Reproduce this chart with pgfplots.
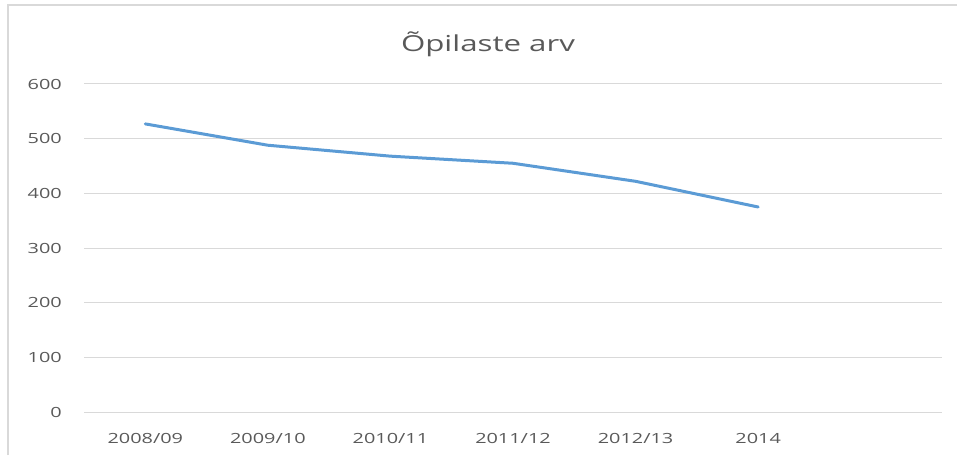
\documentclass[border=0pt]{standalone}
\usepackage{fontspec}
\setmainfont{Open Sans}[FakeStretch=1.42]
\usepackage{pgfplots}
\pgfplotsset{compat=1.18}
\definecolor{xlblue}{HTML}{5B9BD5}
\definecolor{xlgrid}{HTML}{D9D9D9}
\definecolor{xltext}{HTML}{595959}
\begin{document}
\begin{tikzpicture}
\begin{axis}[
  at={(0pt,0pt)}, anchor=south west,
  scale only axis, width=858pt, height=328pt,
  xmin=-0.5, xmax=6.5, ymin=0, ymax=600,
  xtick={0,1,2,3,4,5},
  xticklabels={2008/09,2009/10,2010/11,2011/12,2012/13,2014},
  ytick={0,100,...,600},
  ymajorgrids, grid style={xlgrid, line width=1pt},
  axis line style={draw=none},
  major tick length=0pt,
  /pgf/number format/assume math mode=true,
  tick label style={font=\fontsize{14}{16}\selectfont, text=xltext, inner sep=0pt},
  yticklabel style={anchor=east, xshift=-22pt},
  xticklabel style={anchor=base, yshift=-31pt},
  clip=false,
]
\addplot[xlblue, line width=3pt, line join=round, line cap=round]
  coordinates {(0,527) (1,488) (2,468) (3,455) (4,422) (5,375)};
\end{axis}
% chart frame
\draw[xlgrid, line width=1.5pt] (-76pt,-43pt) -- (-76pt,407pt) -- (873pt,407pt);
\node[anchor=base, text=xltext, font=\fontsize{22}{26}\selectfont, inner sep=0pt]
  at (404pt,360pt) {Õpilaste arv};
\pgfresetboundingbox
\useasboundingbox (-84pt,-43pt) rectangle (873pt,412pt);
\end{tikzpicture}
\end{document}
